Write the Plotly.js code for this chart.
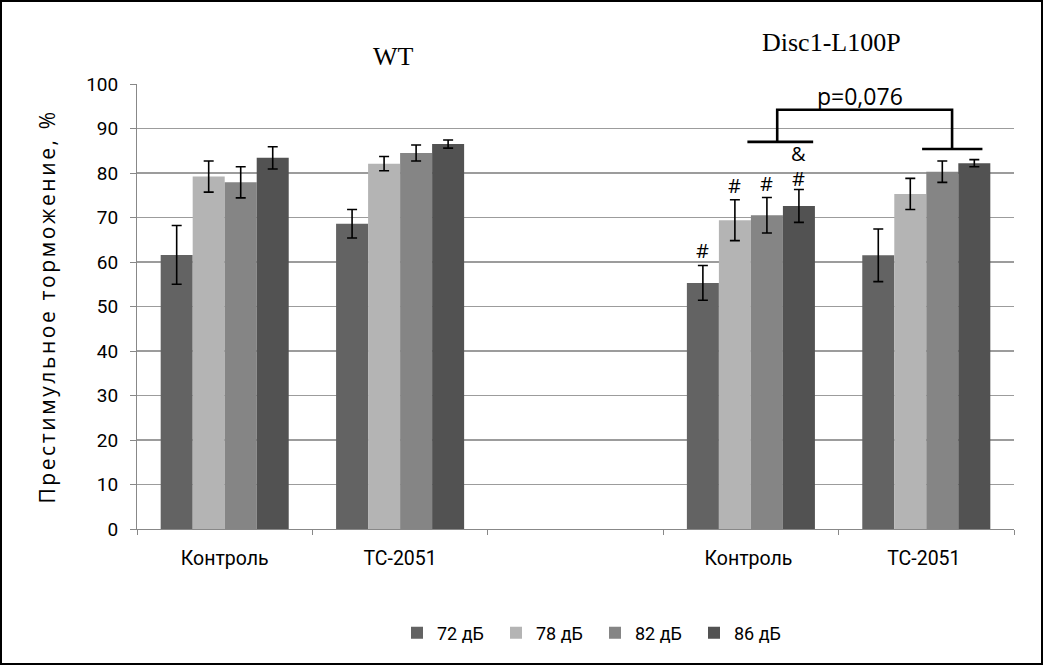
<!DOCTYPE html>
<html><head><meta charset="utf-8">
<script src="https://cdn.plot.ly/plotly-3.0.1.min.js"></script>
<style>
body{margin:0;padding:0;background:#fff;}
#wrap{position:relative;width:1043px;height:665px;}
#chart{width:1043px;height:665px;}
#frame{position:absolute;left:0;top:0;width:1043px;height:665px;box-sizing:border-box;border:2px solid #000;pointer-events:none;}
#chart .ytitle{letter-spacing:2.6px;}
</style>
</head><body>
<div id="wrap"><div id="chart"></div><div id="frame"></div></div>
<script>
// Categories (the blank slot separates the WT and Disc1-L100P groups)
const categories = ["Контроль", "TC-2051", " ", "Контроль ", "TC-2051 "];
const seriesNames = ["72 дБ", "78 дБ", "82 дБ", "86 дБ"];
const v72 = [61.6, 68.6, null, 55.3, 61.5];
const v78 = [79.2, 82.1, null, 69.4, 75.3];
const v82 = [77.9, 84.5, null, 70.5, 80.3];
const v86 = [83.4, 86.5, null, 72.6, 82.2];
const e72 = [6.6, 3.2, null, 3.9, 5.9];
const e78 = [3.5, 1.6, null, 4.6, 3.5];
const e82 = [3.5, 1.8, null, 4.0, 2.4];
const e86 = [2.5, 0.9, null, 3.7, 0.8];
const groupTitles = ["WT", "Disc1-L100P"];
const pText = "p=0,076";
// significance marks: [category, series index, symbol, y]
const marks = [
  ["Контроль ", 0, "#", 62.6],
  ["Контроль ", 1, "#", 77.4],
  ["Контроль ", 2, "#", 77.7],
  ["Контроль ", 3, "#", 78.9],
  ["Контроль ", 3, "&", 84.5]
];

const colors = ["#636363", "#b4b4b4", "#858585", "#525252"];
const vals = [v72, v78, v82, v86];
const errs = [e72, e78, e82, e86];

const traces = vals.map((v, i) => ({
  type: "bar",
  name: seriesNames[i],
  x: categories,
  y: v,
  marker: {color: colors[i], line: {width: 0}},
  error_y: {type: "data", array: errs[i], visible: true, color: "#000", thickness: 1.6, width: 5},
  hoverinfo: "y"
}));

const offsets = [-48, -16, 16, 48];
const annotations = marks.map(m => ({
  x: m[0], y: m[3], xref: "x", yref: "y", xshift: offsets[m[1]], yanchor: "middle", xanchor: "center",
  height: 20, valign: "middle",
  text: m[2], showarrow: false, font: {family: "Open Sans, Liberation Sans", size: 20, color: "#000"}
}));
annotations.push(
  {xref: "paper", yref: "paper", x: (393 - 137) / 877, y: (529 - 56) / 445, yanchor: "middle", xanchor: "center",
   text: groupTitles[0], showarrow: false,
   font: {family: "Liberation Serif, Times New Roman", size: 26, color: "#000"}},
  {xref: "paper", yref: "paper", x: (831 - 137) / 877, y: (529 - 42) / 445, yanchor: "middle", xanchor: "center",
   text: groupTitles[1], showarrow: false,
   font: {family: "Liberation Serif, Times New Roman", size: 26, color: "#000"}},
  {xref: "x", yref: "y", x: 3.62, y: 97.4, yanchor: "middle", xanchor: "center", text: pText, showarrow: false,
   font: {family: "Open Sans, Liberation Sans", size: 23, color: "#000"}}
);

const lineStyle = {color: "#000", width: 2.6};
const shapes = [
  {type: "line", xref: "x", yref: "y", x0: 2.98, x1: 3.355, y0: 87.0, y1: 87.0, line: lineStyle},
  {type: "path", xref: "x", yref: "y", path: "M3.15,87 L3.15,94.2 L4.147,94.2 L4.147,85.4", line: lineStyle},
  {type: "line", xref: "x", yref: "y", x0: 3.976, x1: 4.32, y0: 85.4, y1: 85.4, line: lineStyle}
];

const layout = {
  width: 1043, height: 665,
  margin: {l: 137, r: 29, t: 84, b: 136},
  paper_bgcolor: "#fff", plot_bgcolor: "#fff",
  barmode: "group", bargap: 0.27, bargroupgap: 0,
  showlegend: true,
  legend: {orientation: "h", x: (397 - 137) / 877, xanchor: "left", y: -0.234, yanchor: "middle",
           font: {family: "Roboto, Liberation Sans", size: 18, color: "#000"}, itemwidth: 30, traceorder: "normal",
           entrywidth: 54, entrywidthmode: "pixels", tracegroupgap: 0},
  xaxis: {type: "category", categoryorder: "array", categoryarray: categories,
          tickson: "boundaries", ticks: "outside", ticklen: 5, tickcolor: "#888",
          showline: true, linecolor: "#888", linewidth: 1, showgrid: false, zeroline: false,
          ticklabelstandoff: 12,
          tickfont: {family: "Roboto, Liberation Sans", size: 19.5, color: "#000"}, range: [-0.5, 4.5]},
  yaxis: {range: [0, 100], dtick: 10, showgrid: true, gridcolor: "#9c9c9c", gridwidth: 1.5,
          showline: true, linecolor: "#888", linewidth: 1, ticks: "outside", ticklen: 6, tickcolor: "#888",
          zeroline: false, ticklabelstandoff: 8,
          tickfont: {family: "Roboto, Liberation Sans", size: 19, color: "#000"},
          title: {text: "Престимульное торможение, %", font: {family: "Open Sans, Liberation Sans", size: 21, color: "#000"}, standoff: 24}},
  annotations: annotations,
  shapes: shapes
};

Plotly.newPlot("chart", traces, layout, {displayModeBar: false, staticPlot: true});
</script>
</body></html>
